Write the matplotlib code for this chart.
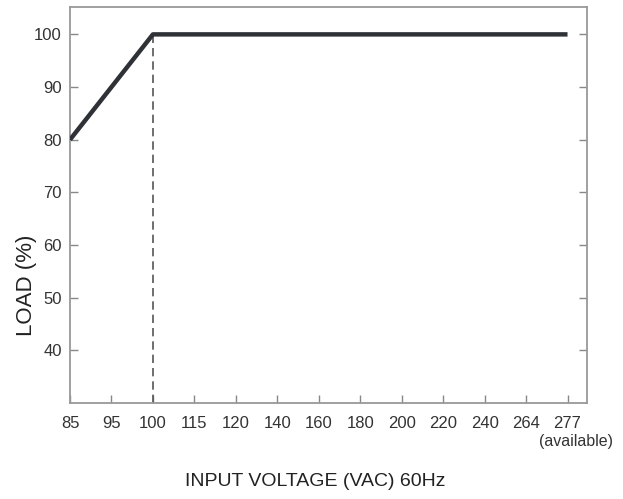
import matplotlib
matplotlib.use("Agg")
import matplotlib.pyplot as plt
from matplotlib.transforms import offset_copy

voltage_labels = ["85", "95", "100", "115", "120", "140", "160", "180", "200", "220", "240", "264", "277"]
curve_voltage = ["85", "100", "277"]
curve_load = [80, 100, 100]
y_ticks = [40, 50, 60, 70, 80, 90, 100]

plt.rcParams['font.family'] = ['Liberation Sans', 'DejaVu Sans']

fig = plt.figure(figsize=(6.23, 4.99), dpi=100)
ax = fig.add_axes([70/623, 1-403/499, (587-70)/623, (403-7)/499])

pos = {v: i for i, v in enumerate(voltage_labels)}
xs = [pos[v] for v in curve_voltage]
ax.plot(xs, curve_load, color="#2e3136", lw=3.2, solid_capstyle="butt", zorder=3)
ax.plot([pos["100"], pos["100"]], [30, 100], color="#555555", lw=1.2, ls=(0, (5, 3)), zorder=2)

ax.set_xlim(0, 12.47)
ax.set_ylim(30, 105.2)
ax.set_xticks(range(len(voltage_labels)))
ax.set_xticklabels(voltage_labels)
ax.set_yticks(y_ticks)
ax.tick_params(axis="both", direction="in", length=6, width=1, color="#888888",
               labelsize=12, labelcolor="#333333")
ax.tick_params(axis="y", right=True, pad=6)
ax.tick_params(axis="x", pad=9)
for s in ax.spines.values():
    s.set_color("#999999")
    s.set_linewidth(1.3)

ax.text(12.2, 30, "(available)", ha="center", va="top", fontsize=11.5, color="#333333",
        transform=offset_copy(ax.transData, fig=fig, x=0, y=-22, units="points"))

fig.text(315/623, 1-481/499, "INPUT VOLTAGE (VAC) 60Hz", ha="center", va="center",
         fontsize=14, color="#222222")
fig.text(27/623, 1-285/499, "LOAD (%)", ha="center", va="center", rotation=90,
         fontsize=16, color="#222222")

fig.savefig("out.png", dpi=100)
